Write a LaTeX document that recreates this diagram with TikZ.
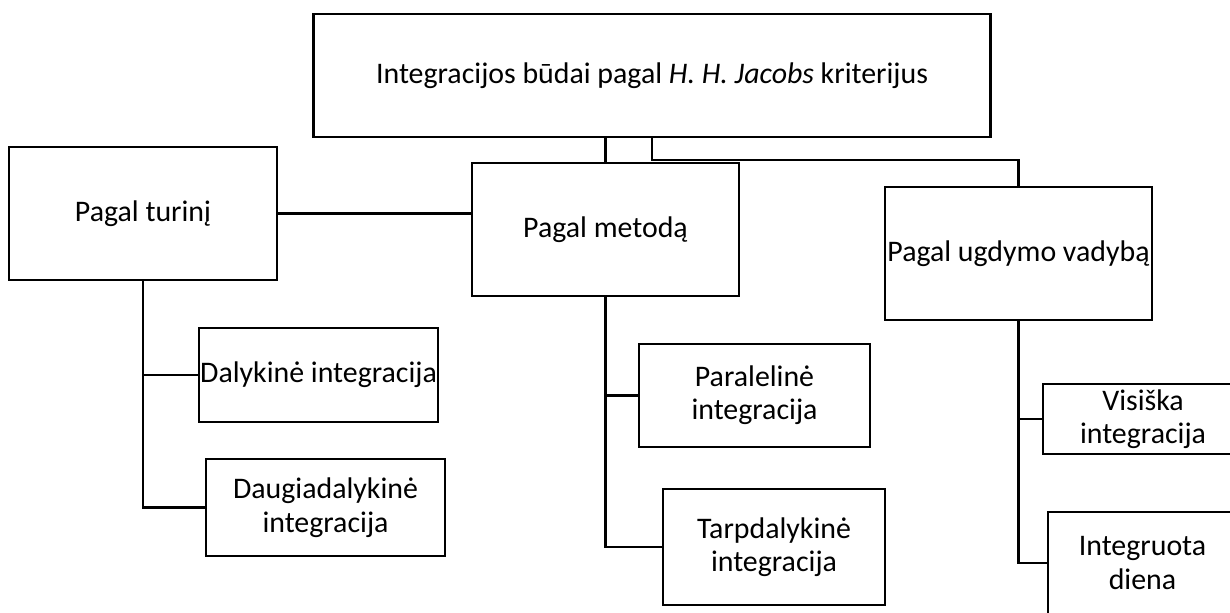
\documentclass[tikz,border=0pt]{standalone}
\usepackage{fontspec}
\setmainfont{Carlito}
\begin{document}
\begin{tikzpicture}[x=0.02cm,y=-0.02cm,
  box/.style={draw=black,line width=1.4pt,fill=white,inner sep=0pt,align=center,
    font=\fontsize{17pt}{19pt}\selectfont},
  conn/.style={draw=black,line width=1.4pt}]
\useasboundingbox (0,0) rectangle (1230,612);
\clip (0,0) rectangle (1230,612);
\fill[white] (0,0) rectangle (1230,612);
\node[box,minimum width=677*0.02cm,minimum height=123*0.02cm] (title) at (652,75.5)
  {Integracijos būdai pagal \textit{H. H. Jacobs} kriterijus};
\node[box,minimum width=268*0.02cm,minimum height=133*0.02cm] (turin) at (143,213.5) {Pagal turinį};
\node[box,minimum width=267*0.02cm,minimum height=133*0.02cm] (metod) at (605.5,229.5) {Pagal metodą};
\node[box,minimum width=267*0.02cm,minimum height=133*0.02cm] (ugdym) at (1018.5,253.5) {Pagal ugdymo vadybą};
\node[box,minimum width=239*0.02cm,minimum height=94*0.02cm] (dalyk) at (318.5,375) {Dalykinė integracija};
\node[box,minimum width=239*0.02cm,minimum height=97*0.02cm] (daugi) at (325.5,507.5) {Daugiadalykinė\\integracija};
\node[box,minimum width=231*0.02cm,minimum height=103*0.02cm] (paral) at (754.5,395.5) {Paralelinė\\integracija};
\node[box,minimum width=222*0.02cm,minimum height=116*0.02cm] (tarpd) at (774,547) {Tarpdalykinė\\integracija};
\node[box,minimum width=200*0.02cm,minimum height=70*0.02cm] (visis) at (1143,419) {Visiška\\integracija};
\node[box,minimum width=189*0.02cm,minimum height=102*0.02cm] (integ) at (1142.5,563) {Integruota\\diena};
% connectors
\draw[conn] (metod.north) -- (metod.north |- title.south);
\draw[conn] (title.south) -- ++(0,22) -| (ugdym.north);
\draw[conn] (turin.east) -- (turin.east -| metod.west);
\draw[conn] (turin.south) |- (daugi.west);
\draw[conn] (dalyk.west) -- (dalyk.west -| turin.south);
\draw[conn] (metod.south) |- (tarpd.west);
\draw[conn] (paral.west) -- (paral.west -| metod.south);
\draw[conn] (ugdym.south) |- (integ.west);
\draw[conn] (visis.west) -- (visis.west -| ugdym.south);
\end{tikzpicture}
\end{document}
